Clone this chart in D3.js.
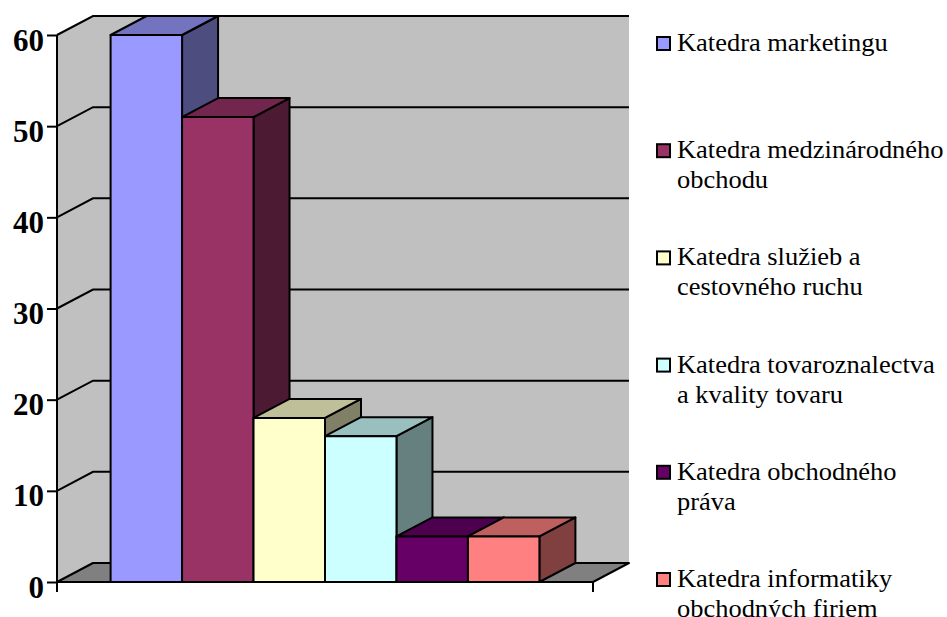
<!DOCTYPE html>
<html>
<head>
<meta charset="utf-8">
<script src="https://cdn.jsdelivr.net/npm/d3@7"></script>
<style>
  html, body { margin: 0; padding: 0; background: #ffffff; }
  svg { display: block; }
</style>
</head>
<body>
<svg id="chart" width="947" height="617"></svg>
<script>
// ---- data ----
const seriesNames = [
  "Katedra marketingu",
  "Katedra medzinárodného obchodu",
  "Katedra služieb a cestovného ruchu",
  "Katedra tovaroznalectva a kvality tovaru",
  "Katedra obchodného práva",
  "Katedra informatiky obchodných firiem"
];
const legendLines = [
  ["Katedra marketingu"],
  ["Katedra medzinárodného", "obchodu"],
  ["Katedra služieb a", "cestovného ruchu"],
  ["Katedra tovaroznalectva", "a kvality tovaru"],
  ["Katedra obchodného", "práva"],
  ["Katedra informatiky", "obchodných firiem"]
];
const seriesValues = [60, 51, 18, 16, 5, 5];
const seriesColors = ["#9999FF", "#993366", "#FFFFCC", "#CCFFFF", "#660066", "#FF8080"];
const yTicks = [0, 10, 20, 30, 40, 50, 60];

// ---- layout ----
const svg = d3.select("#chart");
const x0 = 57, x1 = 593, yBottom = 582, yTop = 35;
const DX = 36, DY = -19;
const serif = "'Liberation Serif', 'Times New Roman', serif";

const y = d3.scaleLinear().domain([0, 60]).range([yBottom, yTop]);
const x = d3.scaleBand().domain(seriesNames).range([x0, x1]).paddingInner(0).paddingOuter(0.75);

const poly = pts => "M" + pts.map(p => p.join(",")).join("L") + "Z";

// walls
svg.append("path")
  .attr("d", poly([[x0 + DX, y(60) + DY], [x1 + DX, y(60) + DY], [x1 + DX, y(0) + DY], [x0 + DX, y(0) + DY]]))
  .attr("fill", "#C0C0C0");
svg.append("path")
  .attr("d", poly([[x0, y(60)], [x0 + DX, y(60) + DY], [x0 + DX, y(0) + DY], [x0, y(0)]]))
  .attr("fill", "#C0C0C0");

// gridlines (back wall + side wall)
const grid = svg.append("g").attr("stroke", "#000").attr("stroke-width", 2).attr("fill", "none");
yTicks.filter(t => t > 0).forEach(t => {
  grid.append("path")
    .attr("d", `M${x0},${y(t)}L${x0 + DX},${y(t) + DY}L${x1 + DX},${y(t) + DY}`);
});

// floor
svg.append("path")
  .attr("d", poly([[x0, y(0)], [x1, y(0)], [x1 + DX, y(0) + DY], [x0 + DX, y(0) + DY]]))
  .attr("fill", "#808080").attr("stroke", "#000").attr("stroke-width", 2).attr("stroke-linejoin", "round");

// bars
const bars = svg.append("g").attr("stroke", "#000").attr("stroke-width", 2).attr("stroke-linejoin", "round");
seriesNames.forEach((name, i) => {
  const v = seriesValues[i];
  const c = d3.color(seriesColors[i]);
  const top = d3.rgb(c.r * 0.75, c.g * 0.75, c.b * 0.75);
  const side = d3.rgb(c.r * 0.5, c.g * 0.5, c.b * 0.5);
  const bx = x(name), bw = x.bandwidth();
  const yt = y(v), yb = y(0);
  const g = bars.append("g");
  g.append("path").attr("fill", side)
    .attr("d", poly([[bx + bw, yt], [bx + bw + DX, yt + DY], [bx + bw + DX, yb + DY], [bx + bw, yb]]));
  g.append("path").attr("fill", top)
    .attr("d", poly([[bx, yt], [bx + bw, yt], [bx + bw + DX, yt + DY], [bx + DX, yt + DY]]));
  g.append("path").attr("fill", c)
    .attr("d", poly([[bx, yt], [bx + bw, yt], [bx + bw, yb], [bx, yb]]));
});

// y axis
const yAxis = d3.axisLeft(y).tickValues(yTicks).tickSize(10).tickSizeOuter(0).tickPadding(3).tickFormat(d3.format("d"));
const ag = svg.append("g").attr("transform", `translate(${x0},0)`).call(yAxis);
ag.select(".domain").remove();
ag.selectAll(".tick line").attr("stroke", "#000").attr("stroke-width", 2);
ag.selectAll(".tick text")
  .attr("fill", "#000")
  .attr("font-family", serif)
  .attr("font-weight", "bold")
  .attr("font-size", 31)
  .attr("dy", 15);
ag.attr("font-size", null).attr("font-family", null);

// axis lines
const axl = svg.append("g").attr("stroke", "#000").attr("stroke-width", 2).attr("fill", "none");
axl.append("path").attr("d", `M${x0},${y(60)}L${x0},${y(0) + 10}`);
axl.append("path").attr("d", `M${x0},${y(0)}L${x1},${y(0)}`);
axl.append("path").attr("d", `M${x1},${y(0)}L${x1},${y(0) + 10}`);

// legend
const leg = svg.append("g");
const legY = d3.scalePoint().domain(seriesNames).range([51, 587]);
seriesNames.forEach((name, i) => {
  const by = legY(name);
  leg.append("rect")
    .attr("x", 657).attr("y", by - 14).attr("width", 13).attr("height", 13)
    .attr("fill", seriesColors[i]).attr("stroke", "#000").attr("stroke-width", 2);
  const t = leg.append("text")
    .attr("font-family", serif).attr("font-size", 24.5).attr("fill", "#000")
    .attr("transform", `translate(677,${by}) scale(1.08,1)`);
  legendLines[i].forEach((line, j) => {
    t.append("tspan").attr("x", 0).attr("y", j * 30).text(line);
  });
});
</script>
</body>
</html>
